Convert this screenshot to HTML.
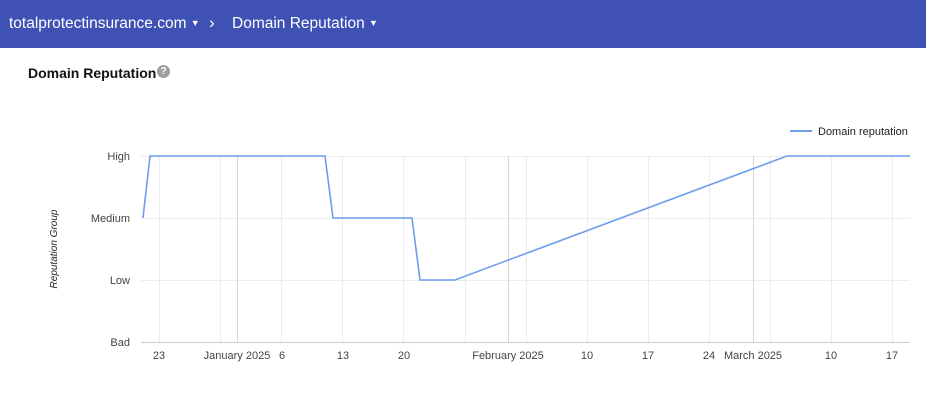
<!DOCTYPE html>
<html><head><style>
body{margin:0;width:926px;height:400px;background:#fff;font-family:"Liberation Sans",Roboto,sans-serif;overflow:hidden;position:relative}
.hdr{position:absolute;left:0;top:0;width:926px;height:48px;background:#3f51b5;color:#fff;font-size:15.5px}
.hdr span{position:absolute;top:15px;white-space:nowrap}
.hdr i{font-style:normal;font-size:9px;vertical-align:2px}
.t{position:absolute;left:28px;top:65px;font-size:14px;font-weight:bold;color:#111}
.q{position:absolute;left:157px;top:65px;width:13px;height:13px;border-radius:50%;background:#9e9e9e;color:#fff;font-size:10px;text-align:center;line-height:13px;font-weight:bold}
svg{position:absolute;left:0;top:0}
</style></head><body>
<div class="hdr"><span style="left:9px">totalprotectinsurance.com <i>▼</i></span><span style="left:209px;font-size:17px;top:13px">›</span><span style="left:232px">Domain Reputation <i>▼</i></span></div>
<div class="t">Domain Reputation</div><div class="q">?</div>
<svg width="926" height="400" font-family="Liberation Sans,Arial,sans-serif" font-size="11" fill="#222">
<g stroke="#ececec" stroke-width="1">
<line x1="141" y1="156.5" x2="910" y2="156.5"/><line x1="141" y1="218.5" x2="910" y2="218.5"/><line x1="141" y1="280.5" x2="910" y2="280.5"/>
<line x1="159.5" y1="156" x2="159.5" y2="342"/><line x1="220.5" y1="156" x2="220.5" y2="342"/><line x1="281.5" y1="156" x2="281.5" y2="342"/><line x1="342.5" y1="156" x2="342.5" y2="342"/><line x1="403.5" y1="156" x2="403.5" y2="342"/><line x1="465.5" y1="156" x2="465.5" y2="342"/><line x1="526.5" y1="156" x2="526.5" y2="342"/><line x1="587.5" y1="156" x2="587.5" y2="342"/><line x1="648.5" y1="156" x2="648.5" y2="342"/><line x1="709.5" y1="156" x2="709.5" y2="342"/><line x1="770.5" y1="156" x2="770.5" y2="342"/><line x1="831.5" y1="156" x2="831.5" y2="342"/><line x1="892.5" y1="156" x2="892.5" y2="342"/>
</g>
<g stroke="#d6d6d6"><line x1="237.5" y1="156" x2="237.5" y2="342"/><line x1="508.5" y1="156" x2="508.5" y2="342"/><line x1="753.5" y1="156" x2="753.5" y2="342"/></g>
<line x1="141" y1="342.5" x2="910" y2="342.5" stroke="#ccc"/>
<polyline fill="none" stroke="#6d9eeb" stroke-width="1.6" points="143,218 150,156 325,156 333,218 412,218 420,280 455,280 787,156 910,156"/>
<line x1="790" y1="131" x2="812" y2="131" stroke="#6d9eeb" stroke-width="2"/>
<text x="818" y="135">Domain reputation</text>
<g text-anchor="end" fill="#444"><text x="130" y="160">High</text><text x="130" y="222">Medium</text><text x="130" y="284">Low</text><text x="130" y="346">Bad</text></g>
<text transform="translate(57,249) rotate(-90)" text-anchor="middle" font-style="italic" font-size="10" fill="#222">Reputation Group</text>
<g text-anchor="middle" fill="#444"><text x="159" y="359">23</text><text x="237" y="359">January 2025</text><text x="282" y="359">6</text><text x="343" y="359">13</text><text x="404" y="359">20</text><text x="508" y="359">February 2025</text><text x="587" y="359">10</text><text x="648" y="359">17</text><text x="709" y="359">24</text><text x="753" y="359">March 2025</text><text x="831" y="359">10</text><text x="892" y="359">17</text></g>
</svg>
</body></html>
